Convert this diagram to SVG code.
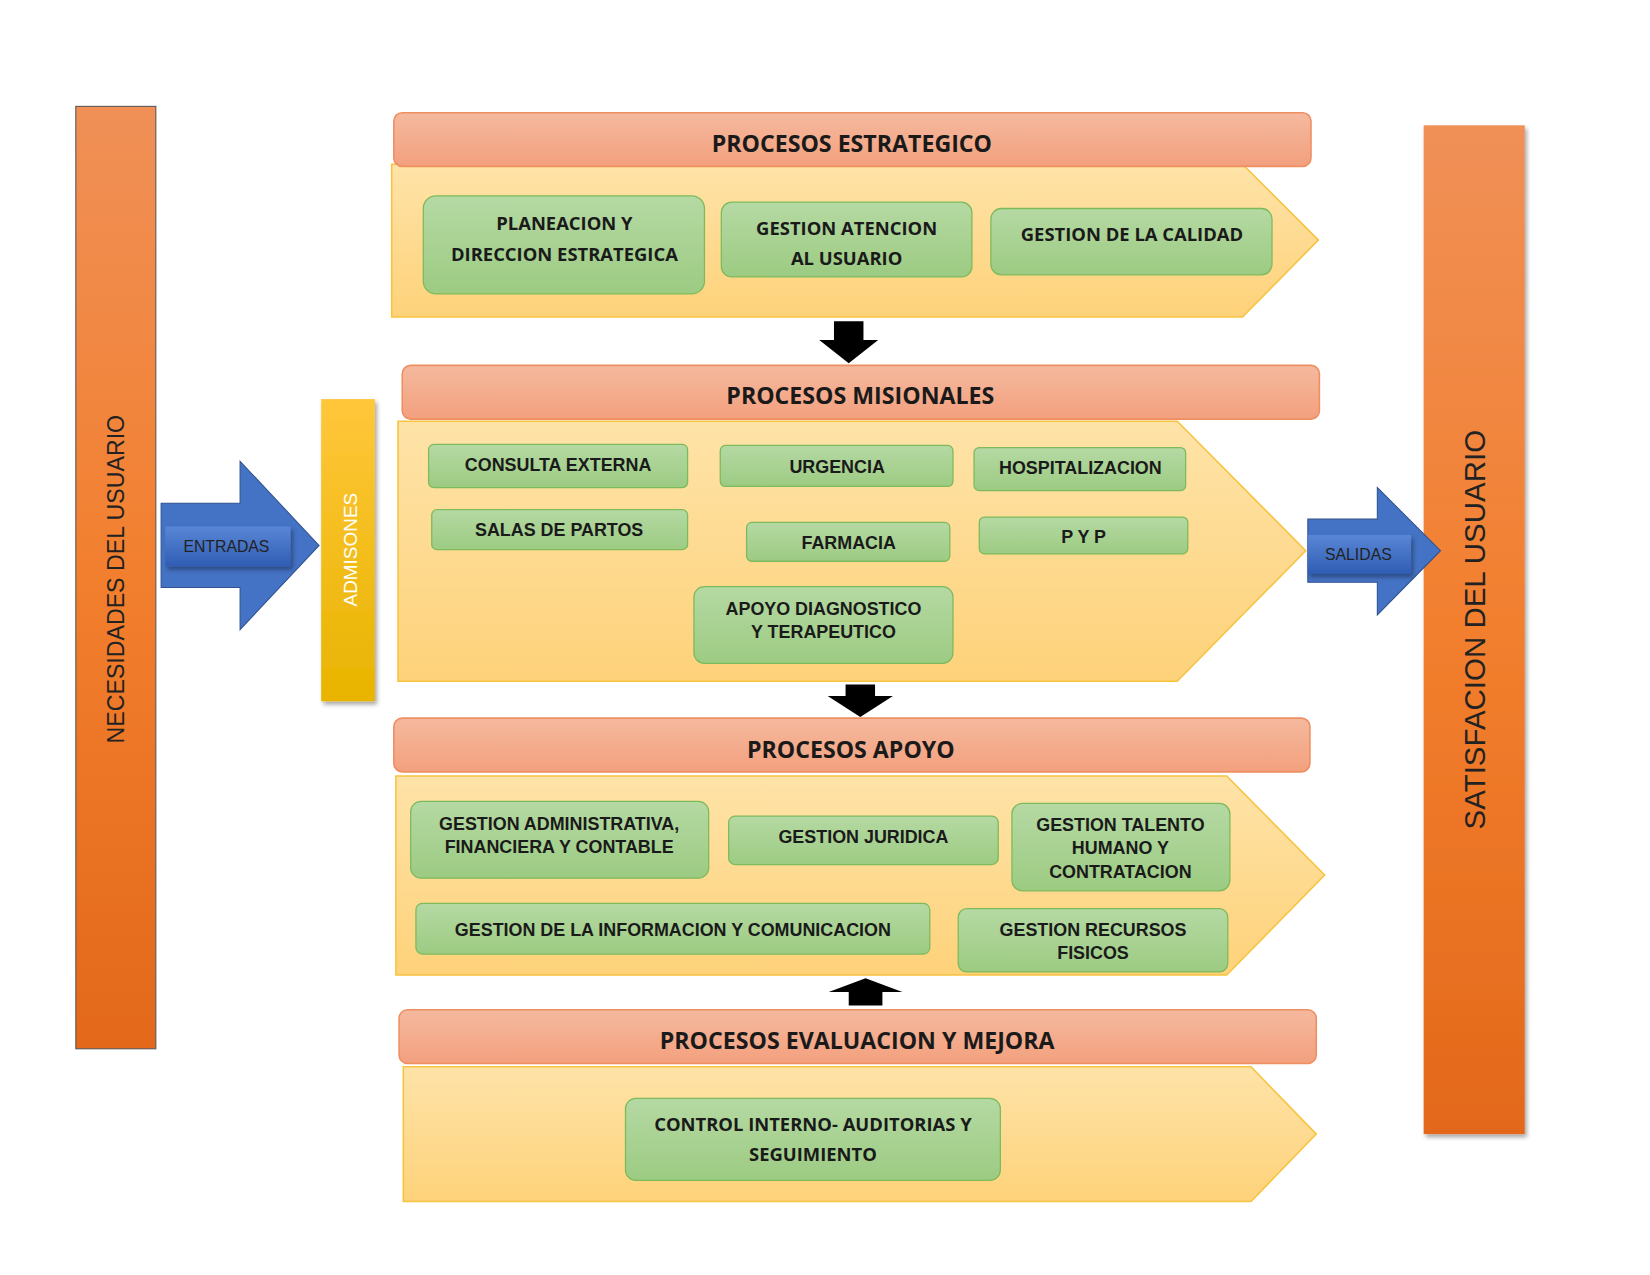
<svg xmlns="http://www.w3.org/2000/svg" width="1650" height="1275" viewBox="0 0 1650 1275">
<defs>
<linearGradient id="og" x1="0" y1="0" x2="0" y2="1"><stop offset="0" stop-color="#F09057"/><stop offset="0.5" stop-color="#F27F2E"/><stop offset="1" stop-color="#E3681A"/></linearGradient>
<linearGradient id="hg" x1="0" y1="0" x2="0" y2="1"><stop offset="0" stop-color="#F5B99E"/><stop offset="1" stop-color="#F3A07E"/></linearGradient>
<linearGradient id="yg" x1="0" y1="0" x2="0" y2="1"><stop offset="0" stop-color="#FEE3A8"/><stop offset="1" stop-color="#FED27A"/></linearGradient>
<linearGradient id="gg" x1="0" y1="0" x2="0" y2="1"><stop offset="0" stop-color="#B5D9A3"/><stop offset="1" stop-color="#9CCB82"/></linearGradient>
<linearGradient id="ag" x1="0" y1="0" x2="0" y2="1"><stop offset="0" stop-color="#FFC73A"/><stop offset="1" stop-color="#E8B400"/></linearGradient>
<linearGradient id="bg" x1="0" y1="0" x2="0" y2="1"><stop offset="0" stop-color="#5A86D6"/><stop offset="1" stop-color="#2F5DB3"/></linearGradient>
<filter id="sh" x="-10%" y="-10%" width="130%" height="130%"><feDropShadow dx="2" dy="3" stdDeviation="2" flood-opacity="0.35"/></filter>
</defs>
<style>
.hdr{fill:url(#hg);stroke:#EE8F62;stroke-width:1.5}
.body{fill:url(#yg);stroke:#F7C440;stroke-width:1.5}
.box{fill:url(#gg);stroke:#7DBA5C;stroke-width:1.2}
.ht{font-family:"Open Sans","Liberation Sans",sans-serif;font-weight:bold;font-size:22px;fill:#1a1a1a;text-anchor:middle}
.bt{font-family:"Open Sans","Liberation Sans",sans-serif;font-weight:bold;font-size:17.5px;fill:#1a1a1a;text-anchor:middle}
.at{font-family:"Liberation Sans",Arial,sans-serif;font-weight:bold;font-size:17px;fill:#1a1a1a;text-anchor:middle}
.vt{font-family:"Liberation Sans",Arial,sans-serif;fill:#222;text-anchor:middle}
.arr{fill:#000}
</style>
<g transform="scale(1.053)">
<g id="necesidades"><rect x="72" y="101" width="76" height="895" fill="url(#og)" stroke="#555" stroke-width="1"/>
<text class="vt" font-size="22" transform="translate(110,550) rotate(-90)" dy="8">NECESIDADES DEL USUARIO</text></g>
<g id="satisfacion"><rect x="1352" y="119" width="96" height="958" fill="url(#og)" filter="url(#sh)"/>
<text class="vt" font-size="28" transform="translate(1400,598) rotate(-90)" dy="10">SATISFACION DEL USUARIO</text></g>
<g id="entradas"><path d="M153,478 H228 V438 L303,518 L228,598 V558 H153 Z" fill="#4472C4" stroke="#2F528F" stroke-width="1"/>
<rect x="157" y="500" width="119" height="38" fill="url(#bg)" filter="url(#sh)"/>
<text class="vt" font-size="15" x="215" y="524">ENTRADAS</text></g>
<g id="admisones"><rect x="305" y="379" width="51" height="287" fill="url(#ag)" filter="url(#sh)"/>
<text class="vt" font-size="18" fill="#fff" style="fill:#fff" transform="translate(333,522) rotate(-90)" dy="6">ADMISONES</text></g>
<g id="salidas"><path d="M1242,493 H1308 V463 L1368,523 L1308,584 V553 H1242 Z" fill="#4472C4" stroke="#2F528F" stroke-width="1"/>
<rect x="1242" y="508" width="98" height="37" fill="url(#bg)" filter="url(#sh)"/>
<text class="vt" font-size="15" x="1290" y="532">SALIDAS</text></g>

<g id="estrategico">
<path class="body" d="M372,156 H1180 L1252,228 L1180,301 H372 Z"/>
<rect class="hdr" x="374" y="107" width="871" height="51" rx="8"/>
<text class="ht" x="809" y="144">PROCESOS ESTRATEGICO</text>
<rect class="box" x="402" y="186" width="267" height="93" rx="12"/>
<text class="bt" x="536" y="218">PLANEACION Y</text><text class="bt" x="536" y="248">DIRECCION ESTRATEGICA</text>
<rect class="box" x="685" y="192" width="238" height="71" rx="10"/>
<text class="bt" x="804" y="223">GESTION ATENCION</text><text class="bt" x="804" y="252">AL USUARIO</text>
<rect class="box" x="941" y="198" width="267" height="63" rx="10"/>
<text class="bt" x="1075" y="229">GESTION DE LA CALIDAD</text>
</g>

<g id="misionales">
<path class="body" d="M378,400 H1118 L1240,523 L1118,647 H378 Z"/>
<rect class="hdr" x="382" y="347" width="871" height="51" rx="8"/>
<text class="ht" x="817" y="384">PROCESOS MISIONALES</text>
<rect class="box" x="407" y="422" width="246" height="41" rx="5"/><text class="at" x="530" y="447">CONSULTA EXTERNA</text>
<rect class="box" x="684" y="423" width="221" height="39" rx="5"/><text class="at" x="795" y="449">URGENCIA</text>
<rect class="box" x="925" y="425" width="201" height="41" rx="5"/><text class="at" x="1026" y="450">HOSPITALIZACION</text>
<rect class="box" x="410" y="484" width="243" height="38" rx="5"/><text class="at" x="531" y="509">SALAS DE PARTOS</text>
<rect class="box" x="709" y="496" width="193" height="37" rx="5"/><text class="at" x="806" y="521">FARMACIA</text>
<rect class="box" x="930" y="491" width="198" height="35" rx="5"/><text class="at" x="1029" y="516">P Y P</text>
<rect class="box" x="659" y="557" width="246" height="73" rx="10"/>
<text class="at" x="782" y="584">APOYO DIAGNOSTICO</text><text class="at" x="782" y="606">Y TERAPEUTICO</text>
</g>

<g id="apoyo">
<path class="body" d="M376,737 H1165 L1258,831 L1165,926 H376 Z"/>
<rect class="hdr" x="374" y="682" width="870" height="51" rx="8"/>
<text class="ht" x="808" y="720">PROCESOS APOYO</text>
<rect class="box" x="390" y="761" width="283" height="73" rx="10"/>
<text class="at" x="531" y="788">GESTION ADMINISTRATIVA,</text><text class="at" x="531" y="810">FINANCIERA Y CONTABLE</text>
<rect class="box" x="692" y="775" width="256" height="46" rx="6"/><text class="at" x="820" y="801">GESTION JURIDICA</text>
<rect class="box" x="961" y="763" width="207" height="83" rx="10"/>
<text class="at" x="1064" y="789">GESTION TALENTO</text><text class="at" x="1064" y="811">HUMANO  Y</text><text class="at" x="1064" y="834">CONTRATACION</text>
<rect class="box" x="395" y="858" width="488" height="48" rx="6"/><text class="at" x="639" y="889">GESTION DE LA INFORMACION Y COMUNICACION</text>
<rect class="box" x="910" y="863" width="256" height="60" rx="8"/>
<text class="at" x="1038" y="889">GESTION RECURSOS</text><text class="at" x="1038" y="911">FISICOS</text>
</g>

<g id="evaluacion">
<path class="body" d="M383,1013 H1188 L1250,1077 L1188,1141 H383 Z"/>
<rect class="hdr" x="379" y="959" width="871" height="51" rx="8"/>
<text class="ht" x="814" y="996">PROCESOS EVALUACION Y MEJORA</text>
<rect class="box" x="594" y="1043" width="356" height="78" rx="10"/>
<text class="bt" x="772" y="1074">CONTROL INTERNO- AUDITORIAS Y</text><text class="bt" x="772" y="1103">SEGUIMIENTO</text>
</g>

<g id="connectors">
<path class="arr" d="M792,305 H820 V323 H834 L806,345 L778,323 H792 Z"/>
<path class="arr" d="M803,650 H831 V661 H848 L817,681 L786,661 H803 Z"/>
<path class="arr" d="M806,955 H838 V942 H857 L822,929 L787,942 H806 Z"/>
</g>
</g>
</svg>
